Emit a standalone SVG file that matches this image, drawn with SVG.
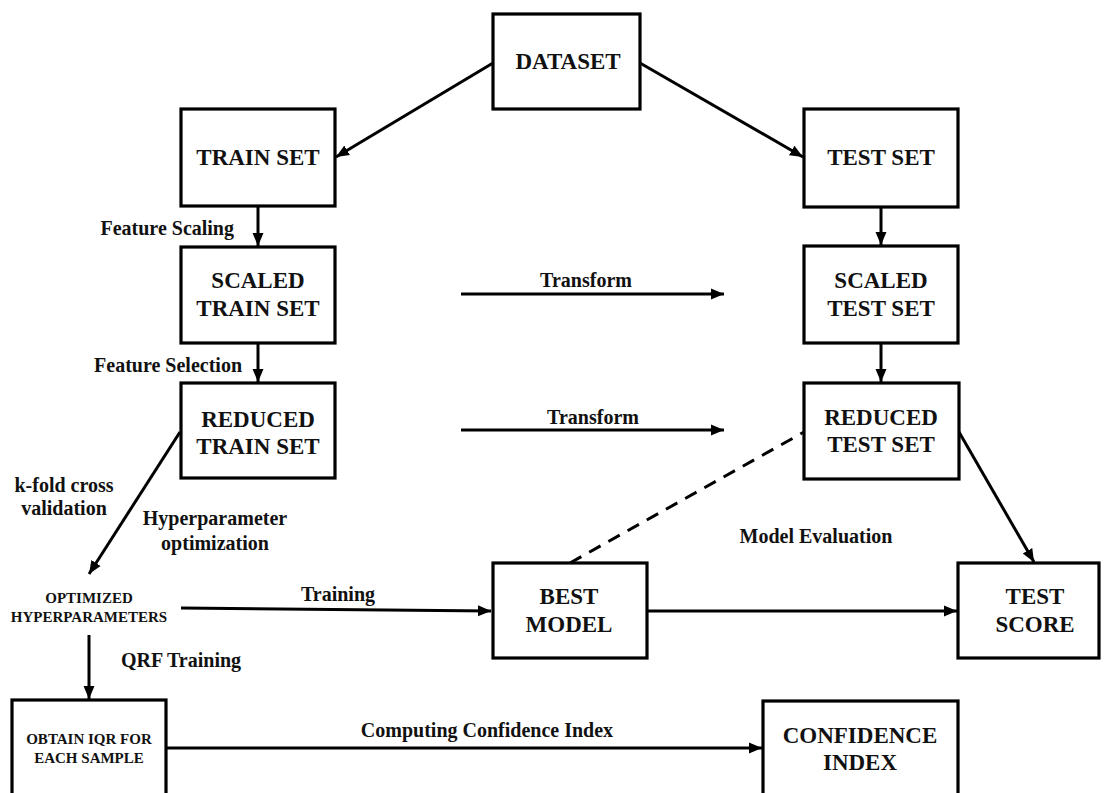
<svg xmlns="http://www.w3.org/2000/svg" width="1104" height="793" viewBox="0 0 1104 793">
<defs>
<marker id="ah" markerUnits="userSpaceOnUse" markerWidth="14" markerHeight="14" viewBox="0 0 14 14" refX="13" refY="7" orient="auto">
<path d="M0,1.5 L13,7 L0,12.5 Z" fill="#000"/>
</marker>
<style>
.box{fill:#fff;stroke:#000;stroke-width:3.2}
.bt{font-family:"Liberation Serif","Times New Roman",serif;font-weight:bold;font-size:23px;text-anchor:middle;fill:#111}
.sm{font-family:"Liberation Serif","Times New Roman",serif;font-weight:bold;font-size:15px;text-anchor:middle;fill:#111}
.lb{font-family:"Liberation Serif","Times New Roman",serif;font-weight:bold;font-size:20px;fill:#111}
.ln{fill:none;stroke:#000;stroke-width:3}
.ar{fill:none;stroke:#000;stroke-width:3;marker-end:url(#ah)}
</style>
</defs>
<rect width="1104" height="793" fill="#fff"/>
<g id="connectors">
<path class="ar" d="M493,63 L336,157"/>
<path class="ar" d="M640,63 L803,157"/>
<path class="ar" d="M258,206 L258,246"/>
<path class="ar" d="M258,343 L258,382"/>
<path class="ar" d="M881,207 L881,245"/>
<path class="ar" d="M881,343 L881,382"/>
<path class="ar" d="M461,294 L724,294"/>
<path class="ar" d="M461,430 L724,430"/>
<path class="ar" d="M180,432 L89,574"/>
<path class="ar" d="M181,608 L491,611"/>
<path class="ar" d="M89,635 L89,699"/>
<path class="ar" d="M166,748 L762,748"/>
<path class="ar" d="M647,611 L957,611"/>
<path class="ar" d="M959,432 L1034,562"/>
<path class="ln" d="M570,563 L804,432" stroke-dasharray="13,9"/>
<text class="lb" x="234" y="235" text-anchor="end">Feature Scaling</text>
<text class="lb" x="242" y="372" text-anchor="end">Feature Selection</text>
<text class="lb" x="586" y="287" text-anchor="middle">Transform</text>
<text class="lb" x="593" y="424" text-anchor="middle">Transform</text>
<text class="lb" x="64" y="492" text-anchor="middle">k-fold cross</text>
<text class="lb" x="64" y="515" text-anchor="middle">validation</text>
<text class="lb" x="215" y="525" text-anchor="middle">Hyperparameter</text>
<text class="lb" x="215" y="550" text-anchor="middle">optimization</text>
<text class="lb" x="338" y="601" text-anchor="middle">Training</text>
<text class="lb" x="816" y="543" text-anchor="middle">Model Evaluation</text>
<text class="lb" x="181" y="667" text-anchor="middle">QRF Training</text>
<text class="lb" x="487" y="737" text-anchor="middle">Computing Confidence Index</text>
</g>
<g id="dataset">
<rect class="box" x="493" y="14" width="147" height="95"/>
<text class="bt" x="568" y="69">DATASET</text>
</g>
<g id="train-set">
<rect class="box" x="181" y="109" width="154" height="97"/>
<text class="bt" x="258" y="165">TRAIN SET</text>
</g>
<g id="test-set">
<rect class="box" x="804" y="109" width="154" height="98"/>
<text class="bt" x="881" y="165">TEST SET</text>
</g>
<g id="scaled-train-set">
<rect class="box" x="181" y="247" width="154" height="96"/>
<text class="bt" x="258" y="288">SCALED</text>
<text class="bt" x="258" y="316">TRAIN SET</text>
</g>
<g id="scaled-test-set">
<rect class="box" x="804" y="246" width="154" height="97"/>
<text class="bt" x="881" y="288">SCALED</text>
<text class="bt" x="881" y="316">TEST SET</text>
</g>
<g id="reduced-train-set">
<rect class="box" x="181" y="383" width="154" height="95"/>
<text class="bt" x="258" y="427">REDUCED</text>
<text class="bt" x="258" y="454">TRAIN SET</text>
</g>
<g id="reduced-test-set">
<rect class="box" x="804" y="383" width="155" height="96"/>
<text class="bt" x="881" y="425">REDUCED</text>
<text class="bt" x="881" y="452">TEST SET</text>
</g>
<g id="optimized-hyperparameters">
<text class="sm" x="89" y="603">OPTIMIZED</text>
<text class="sm" x="89" y="622">HYPERPARAMETERS</text>
</g>
<g id="best-model">
<rect class="box" x="493" y="563" width="154" height="95"/>
<text class="bt" x="569" y="604">BEST</text>
<text class="bt" x="569" y="632">MODEL</text>
</g>
<g id="test-score">
<rect class="box" x="958" y="563" width="141" height="95"/>
<text class="bt" x="1035" y="604">TEST</text>
<text class="bt" x="1035" y="632">SCORE</text>
</g>
<g id="obtain-iqr">
<rect class="box" x="12" y="700" width="154" height="110"/>
<text class="sm" x="89" y="744">OBTAIN IQR FOR</text>
<text class="sm" x="89" y="763">EACH SAMPLE</text>
</g>
<g id="confidence-index">
<rect class="box" x="763" y="701" width="195" height="110"/>
<text class="bt" x="860" y="743">CONFIDENCE</text>
<text class="bt" x="860" y="770">INDEX</text>
</g>
</svg>
